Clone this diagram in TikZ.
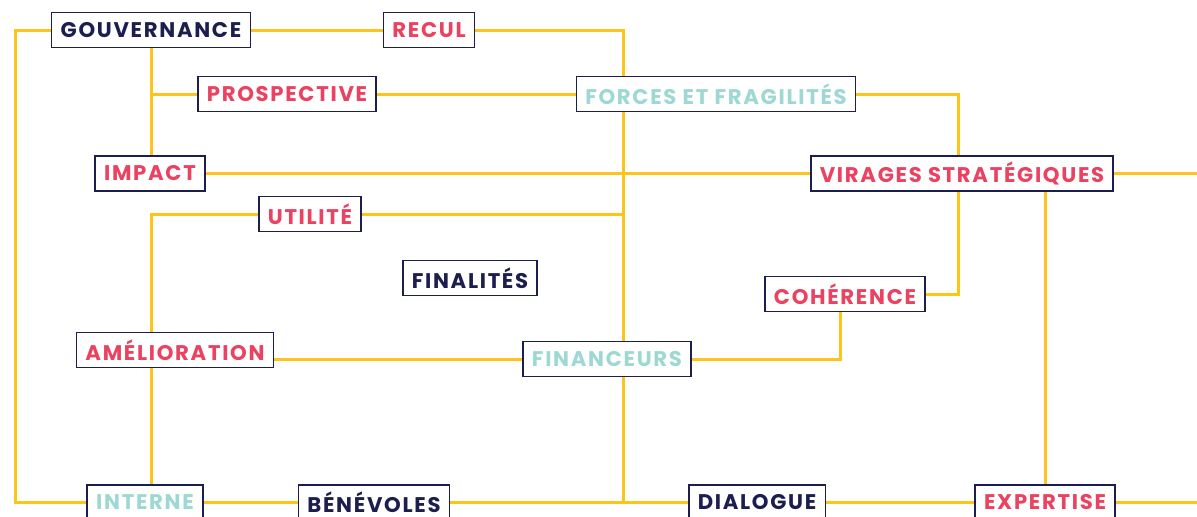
\documentclass[tikz,border=0pt]{standalone}
\usepackage{fontspec}
\setmainfont{Poppins}
\usepackage{tikz}
\definecolor{navy}{HTML}{1C1E4F}
\definecolor{rose}{HTML}{EA4260}
\definecolor{aqua}{HTML}{9DD9D2}
\definecolor{gold}{HTML}{FDC41A}
\newcommand{\tagfont}{\fontsize{10.6}{12}\selectfont\bfseries\addfontfeatures{LetterSpace=8}}
\tikzstyle{every node}=[draw=navy, fill=white, line width=0.75pt, minimum height=17.5pt, inner xsep=4.5pt, inner ysep=0pt, font=\tagfont]
\tikzset{link/.style={draw=gold, line width=1.5pt}}
\tikzset{dark/.style={text=navy}}
\tikzset{hot/.style={text=rose}}
\tikzset{soft/.style={text=aqua}}

\begin{document}
\begin{tikzpicture}[x=0.5pt,y=-0.5pt]
		\useasboundingbox (0,0) rectangle (1197,516);
		\clip (0,0) rectangle (1197,516);
		\fill[white] (0,0) rectangle (1197,516);
		% boxes
		\node[dark] (gouv) at (151,30) {GOUVERNANCE};
		\node[hot] (recul) at (429,30) {RECUL};
		\node[hot] (prosp) at (287,94) {PROSPECTIVE};
		\node[soft] (forces) at (716,94) {FORCES ET FRAGILITÉS};
		\node[hot] (impact) at (150,173.5) {IMPACT};
		\node[hot] (virages) at (962,173.5) {VIRAGES STRATÉGIQUES};
		\node[hot] (util) at (310,214) {UTILITÉ};
		\node[dark] (final) at (470,278) {FINALITÉS};
		\node[hot] (coher) at (845,294) {COHÉRENCE};
		\node[hot] (amel) at (175,350) {AMÉLIORATION};
		\node[soft] (finan) at (607,359) {FINANCEURS};
		\node[soft] (interne) at (145,502.5) {INTERNE};
		\node[dark] (benev) at (374,502.5) {BÉNÉVOLES};
		\node[dark] (dialog) at (757,502.5) {DIALOGUE};
		\node[hot] (expert) at (1045,502.5) {EXPERTISE};
		% junctions
		\coordinate (spine) at (623,30);
		\coordinate (ul) at (151,214);
		% links
		\draw[link] (gouv.west) -- ++(-35,0) |- (interne.west);
		\draw[link] (gouv.east) -- (recul.west);
		\draw[link] (recul.east) -| (spine |- forces.north);
		\draw[link] (gouv.south) -- (gouv.south |- impact.north);
		\draw[link] (gouv.south |- prosp.west) -- (prosp.west);
		\draw[link] (prosp.east) -- (forces.west);
		\draw[link] (forces.east) -| ([xshift=-2pt]virages.north);
		\draw[link] (impact.east) -- (virages.west);
		\draw[link] (virages.east) -- ++(100,0);
		\draw[link] ([xshift=-2pt]virages.south) |- (coher.east);
		\draw[link] (virages.south -| expert.north) -- (expert.north);
		\draw[link] (spine |- forces.south) -- (spine |- finan.north);
		\draw[link] (spine |- finan.south) -- (spine |- dialog.west);
		\draw[link] (util.east) -- (spine |- util.east);
		\draw[link] (util.west) -- (ul) -- (ul |- amel.north);
		\draw[link] (ul |- amel.south) -- (ul |- interne.north);
		\draw[link] (amel.east |- finan.west) -- (finan.west);
		\draw[link] (finan.east) -| ([xshift=-2.5pt]coher.south);
		\draw[link] (interne.east) -- (benev.west);
		\draw[link] (benev.east) -- (dialog.west);
		\draw[link] (dialog.east) -- (expert.west);
		\draw[link] (expert.east) -- ++(100,0);
\end{tikzpicture}
\end{document}
